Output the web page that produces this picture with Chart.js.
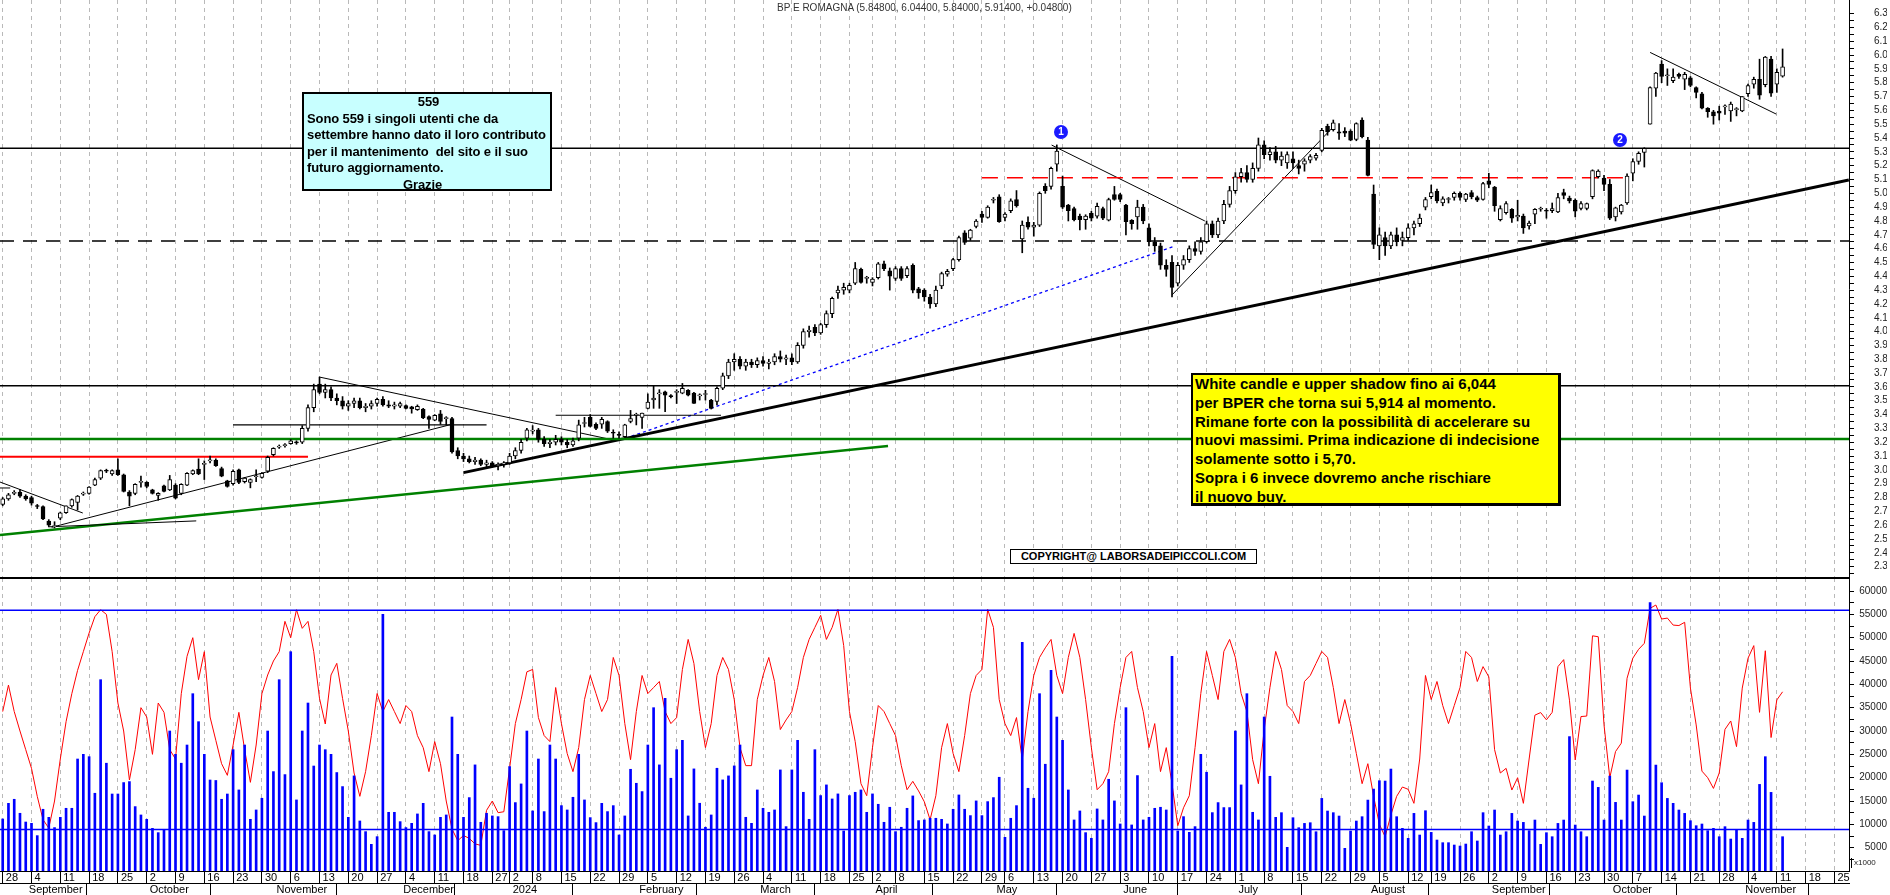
<!DOCTYPE html>
<html><head><meta charset="utf-8">
<script src="https://cdn.jsdelivr.net/npm/chart.js@4.4.1/dist/chart.umd.min.js"></script>
<style>
html,body{margin:0;padding:0;background:#fff;width:1890px;height:895px;overflow:hidden;font-family:"Liberation Sans",Arial,sans-serif}
#wrap{position:relative;width:1890px;height:895px}
canvas{position:absolute;left:0}
#price{top:0}
#vol{top:578px}
.box{position:absolute;box-sizing:border-box;white-space:pre;color:#000}
#title{position:absolute;left:777px;top:2px;font-size:10px;color:#333;white-space:pre}
#cyan{left:302px;top:92px;width:250px;height:99px;border:2px solid #000;background:#c8ffff;font-weight:bold;font-size:13px;line-height:16.5px;padding:0 0 0 3px;letter-spacing:-0.1px}
#yellow{left:1191px;top:373px;width:370px;height:133px;border:2px solid #000;border-right-width:3px;border-bottom-width:3px;background:#ffff00;font-weight:bold;font-size:15px;line-height:18.8px;padding:0 0 0 2px}
#copy{left:1010px;top:549px;width:247px;height:15px;border:1px solid #000;background:#fff;font-weight:bold;font-size:11px;line-height:13px;text-align:center}
.circ{position:absolute;width:14px;height:14px;border-radius:50%;background:#1a1aff;color:#fff;font-weight:bold;font-size:10px;line-height:14px;text-align:center}
#sep{position:absolute;left:0;top:577px;width:1849px;height:2px;background:#000}
#x1000{position:absolute;left:1851px;top:858px;font-size:8px;line-height:10px;border-left:1px solid #000;padding-left:2px;color:#222}
</style></head><body>
<div id="wrap">
<canvas id="price" width="1890" height="578"></canvas>
<canvas id="vol" width="1890" height="317"></canvas>
<div id="sep"></div>
<div id="title">BP E ROMAGNA (5.84800, 6.04400, 5.84000, 5.91400, +0.04800)</div>
<div class="box" id="cyan"><div style="text-align:center">559</div>Sono 559 i singoli utenti che da
settembre hanno dato il loro contributo
per il mantenimento  del sito e il suo
futuro aggiornamento.
<div style="text-align:center;margin-left:-12px">Grazie</div></div>
<div class="box" id="yellow">White candle e upper shadow fino ai 6,044
per BPER che torna sui 5,914 al momento.
Rimane forte con la possibilità di accelerare su
nuovi massimi. Prima indicazione di indecisione
solamente sotto i 5,70.
Sopra i 6 invece dovremo anche rischiare
il nuovo buy.</div>
<div class="box" id="copy">COPYRIGHT@ LABORSADEIPICCOLI.COM</div>
<div class="circ" style="left:1054px;top:125px">1</div>
<div class="circ" style="left:1613px;top:133px">2</div>
<div id="x1000">x1000</div>
</div>
<script>
// ---------- DATA ----------
const open=[2.75,2.79,2.83,2.84,2.81,2.80,2.74,2.735,2.63,2.59,2.65,2.69,2.74,2.765,2.825,2.83,2.89,2.94,2.995,2.97,3.00,2.965,2.84,2.83,2.91,2.91,2.855,2.815,2.885,2.855,2.89,2.83,2.89,2.97,3.005,3.04,3.065,3.07,3.01,2.92,2.90,3.00,2.915,2.91,2.95,2.945,2.99,3.11,3.165,3.175,3.19,3.20,3.20,3.30,3.45,3.62,3.56,3.58,3.52,3.50,3.46,3.48,3.50,3.45,3.46,3.48,3.51,3.47,3.46,3.46,3.465,3.455,3.435,3.44,3.385,3.36,3.405,3.37,3.37,3.14,3.10,3.08,3.06,3.07,3.04,3.05,3.03,3.04,3.05,3.10,3.14,3.23,3.28,3.29,3.22,3.19,3.20,3.22,3.20,3.18,3.23,3.335,3.38,3.33,3.33,3.35,3.27,3.255,3.24,3.35,3.395,3.38,3.445,3.505,3.55,3.565,3.535,3.56,3.555,3.575,3.555,3.535,3.545,3.505,3.495,3.59,3.68,3.78,3.80,3.75,3.78,3.76,3.79,3.77,3.78,3.82,3.80,3.81,3.78,3.90,4.00,4.03,3.99,4.05,4.13,4.28,4.30,4.30,4.35,4.45,4.385,4.355,4.39,4.49,4.44,4.385,4.455,4.405,4.48,4.31,4.30,4.25,4.20,4.33,4.415,4.455,4.52,4.715,4.675,4.76,4.85,4.825,4.95,4.975,4.825,4.875,4.955,4.67,4.79,4.755,4.77,5.05,5.05,5.21,5.05,4.915,4.89,4.835,4.81,4.855,4.835,4.89,4.805,4.99,4.99,4.915,4.805,4.83,4.90,4.75,4.65,4.62,4.48,4.50,4.35,4.48,4.52,4.60,4.58,4.65,4.78,4.70,4.80,4.92,5.02,5.12,5.15,5.10,5.18,5.35,5.28,5.30,5.24,5.22,5.25,5.20,5.21,5.24,5.255,5.31,5.485,5.46,5.445,5.45,5.45,5.39,5.53,5.385,4.995,4.62,4.68,4.62,4.70,4.66,4.68,4.75,4.78,4.90,4.975,5.015,4.93,4.955,4.97,5.00,4.955,5.005,4.97,4.955,5.09,5.045,4.81,4.86,4.885,4.83,4.835,4.765,4.85,4.885,4.875,4.875,4.865,5.005,4.965,4.95,4.89,4.89,4.975,5.12,5.11,5.065,4.83,4.865,4.93,5.145,5.23,5.295,5.50,5.76,5.935,5.85,5.815,5.86,5.825,5.835,5.765,5.72,5.615,5.59,5.595,5.625,5.595,5.605,5.595,5.72,5.79,5.825,5.785,5.97,5.79,5.848];
const high=[2.80,2.83,2.85,2.86,2.82,2.81,2.75,2.74,2.64,2.625,2.695,2.74,2.79,2.815,2.84,2.88,2.94,3.00,3.005,3.00,3.08,2.97,2.85,2.90,2.955,2.915,2.86,2.835,2.89,2.96,2.90,2.90,2.98,3.00,3.08,3.065,3.10,3.08,3.02,2.925,3.00,3.005,2.945,2.935,3.00,2.98,3.10,3.16,3.18,3.19,3.22,3.21,3.32,3.47,3.62,3.67,3.62,3.60,3.55,3.53,3.50,3.52,3.52,3.48,3.50,3.52,3.53,3.50,3.49,3.49,3.47,3.46,3.47,3.445,3.39,3.40,3.43,3.385,3.38,3.16,3.12,3.10,3.09,3.08,3.07,3.06,3.05,3.06,3.12,3.16,3.22,3.30,3.32,3.30,3.24,3.22,3.25,3.24,3.22,3.23,3.36,3.38,3.40,3.34,3.38,3.355,3.29,3.275,3.33,3.43,3.41,3.41,3.55,3.605,3.58,3.57,3.545,3.58,3.625,3.58,3.56,3.55,3.575,3.51,3.60,3.70,3.80,3.84,3.82,3.80,3.80,3.81,3.82,3.80,3.84,3.86,3.83,3.84,3.92,4.02,4.04,4.05,4.06,4.15,4.25,4.33,4.35,4.35,4.50,4.46,4.40,4.39,4.50,4.51,4.46,4.47,4.47,4.47,4.49,4.32,4.31,4.27,4.33,4.43,4.45,4.53,4.69,4.73,4.74,4.81,4.87,4.91,4.97,4.99,4.86,4.96,5.02,4.80,4.83,4.79,5.01,5.07,5.19,5.35,5.125,4.92,4.90,4.85,4.845,4.87,4.93,4.90,4.965,5.05,5.00,4.92,4.81,4.95,4.92,4.78,4.68,4.64,4.52,4.55,4.50,4.55,4.62,4.65,4.68,4.80,4.80,4.82,4.95,5.05,5.15,5.18,5.20,5.22,5.40,5.38,5.33,5.34,5.30,5.30,5.30,5.24,5.25,5.28,5.29,5.47,5.50,5.53,5.505,5.475,5.46,5.51,5.545,5.405,5.06,4.75,4.72,4.72,4.75,4.72,4.78,4.80,4.85,4.97,5.06,5.03,4.975,4.97,5.01,5.01,5.00,5.02,4.98,5.08,5.145,5.05,4.91,4.94,4.89,4.95,4.85,4.80,4.89,4.90,4.89,4.93,5.00,5.03,4.98,4.96,4.94,4.93,5.17,5.17,5.13,5.10,4.90,4.92,5.14,5.25,5.30,5.33,5.77,5.875,5.96,5.90,5.90,5.87,5.875,5.845,5.77,5.73,5.62,5.60,5.63,5.64,5.66,5.62,5.70,5.79,5.84,5.97,5.99,5.99,5.90,6.044];
const low=[2.74,2.78,2.82,2.80,2.78,2.745,2.72,2.64,2.59,2.58,2.64,2.685,2.73,2.71,2.815,2.825,2.885,2.93,2.98,2.96,2.96,2.84,2.74,2.82,2.875,2.87,2.825,2.78,2.84,2.85,2.79,2.82,2.885,2.965,2.965,2.93,3.05,3.025,2.95,2.875,2.89,2.90,2.905,2.87,2.915,2.94,2.98,3.10,3.155,3.165,3.185,3.185,3.19,3.28,3.42,3.55,3.52,3.50,3.47,3.44,3.43,3.45,3.44,3.42,3.44,3.46,3.46,3.45,3.44,3.45,3.44,3.41,3.43,3.37,3.30,3.355,3.33,3.325,3.12,3.08,3.06,3.05,3.04,3.03,3.02,3.02,3.00,3.02,3.04,3.08,3.12,3.21,3.26,3.20,3.17,3.16,3.18,3.18,3.16,3.17,3.21,3.31,3.31,3.29,3.30,3.27,3.23,3.23,3.235,3.34,3.325,3.30,3.44,3.445,3.445,3.42,3.52,3.48,3.55,3.535,3.48,3.505,3.505,3.44,3.47,3.58,3.66,3.72,3.73,3.72,3.74,3.74,3.75,3.73,3.76,3.78,3.76,3.76,3.77,3.88,3.96,3.97,3.98,4.03,4.10,4.24,4.27,4.28,4.34,4.35,4.35,4.33,4.38,4.44,4.30,4.37,4.37,4.39,4.28,4.24,4.22,4.17,4.18,4.31,4.40,4.44,4.51,4.63,4.66,4.75,4.79,4.82,4.93,4.79,4.80,4.86,4.90,4.57,4.74,4.69,4.76,5.00,5.03,5.16,4.89,4.80,4.80,4.735,4.74,4.80,4.82,4.81,4.80,4.95,4.94,4.70,4.74,4.74,4.78,4.62,4.58,4.45,4.40,4.25,4.33,4.45,4.50,4.55,4.56,4.64,4.68,4.68,4.78,4.90,5.00,5.08,5.08,5.08,5.16,5.25,5.24,5.22,5.20,5.18,5.18,5.14,5.16,5.22,5.24,5.30,5.42,5.45,5.39,5.41,5.38,5.38,5.40,5.125,4.60,4.52,4.55,4.60,4.62,4.62,4.66,4.70,4.76,4.88,4.96,4.93,4.91,4.93,4.95,4.95,4.94,4.96,4.94,4.95,5.04,4.87,4.80,4.85,4.79,4.80,4.71,4.74,4.78,4.87,4.82,4.86,4.86,4.96,4.93,4.83,4.88,4.88,4.96,5.11,5.02,4.81,4.80,4.85,4.92,5.09,5.21,5.19,5.50,5.70,5.80,5.78,5.80,5.83,5.75,5.77,5.69,5.61,5.55,5.50,5.53,5.57,5.52,5.56,5.59,5.70,5.76,5.68,5.77,5.70,5.73,5.84];
const close=[2.79,2.82,2.835,2.81,2.79,2.76,2.735,2.645,2.60,2.595,2.69,2.74,2.785,2.81,2.83,2.875,2.93,2.995,2.99,2.995,2.965,2.845,2.81,2.895,2.915,2.88,2.83,2.83,2.845,2.93,2.795,2.895,2.975,2.995,2.97,3.045,3.07,3.03,2.955,2.88,2.99,2.91,2.94,2.93,2.955,2.975,3.09,3.155,3.17,3.18,3.21,3.195,3.30,3.45,3.58,3.56,3.58,3.52,3.50,3.46,3.48,3.50,3.45,3.46,3.48,3.51,3.47,3.46,3.47,3.48,3.445,3.44,3.46,3.375,3.365,3.395,3.35,3.375,3.13,3.10,3.08,3.06,3.07,3.04,3.05,3.03,3.04,3.05,3.10,3.14,3.20,3.29,3.285,3.22,3.19,3.20,3.22,3.20,3.18,3.21,3.325,3.34,3.315,3.30,3.365,3.28,3.265,3.25,3.325,3.37,3.40,3.41,3.49,3.52,3.555,3.54,3.53,3.565,3.59,3.54,3.48,3.54,3.55,3.445,3.59,3.68,3.78,3.80,3.75,3.78,3.76,3.79,3.77,3.78,3.82,3.80,3.81,3.78,3.90,4.00,4.01,3.99,4.05,4.13,4.24,4.30,4.32,4.335,4.455,4.355,4.385,4.38,4.49,4.455,4.40,4.455,4.385,4.455,4.30,4.28,4.25,4.20,4.30,4.42,4.435,4.52,4.68,4.645,4.735,4.80,4.825,4.90,4.955,4.795,4.85,4.945,4.91,4.77,4.755,4.77,5.00,5.02,5.18,5.305,4.90,4.875,4.81,4.81,4.835,4.82,4.905,4.82,4.955,4.955,4.955,4.795,4.78,4.90,4.80,4.65,4.62,4.48,4.45,4.32,4.48,4.52,4.60,4.58,4.65,4.78,4.70,4.80,4.92,5.02,5.12,5.15,5.10,5.18,5.35,5.28,5.30,5.24,5.27,5.28,5.22,5.18,5.235,5.265,5.275,5.455,5.445,5.51,5.435,5.435,5.385,5.505,5.41,5.13,4.63,4.70,4.62,4.70,4.65,4.68,4.75,4.78,4.82,4.955,5.005,4.945,4.96,4.96,5.00,4.97,4.995,4.975,4.95,5.07,5.065,4.91,4.89,4.925,4.82,4.84,4.75,4.785,4.885,4.89,4.87,4.89,4.97,4.985,4.945,4.87,4.925,4.925,5.165,5.16,5.065,4.82,4.895,4.915,5.125,5.23,5.29,5.325,5.765,5.87,5.845,5.85,5.84,5.845,5.86,5.78,5.73,5.615,5.59,5.56,5.58,5.63,5.645,5.61,5.70,5.78,5.825,5.71,5.985,5.725,5.875,5.914];
const volume=[11150,14500,15370,12370,10500,10220,7580,13230,11500,9300,11500,13440,13440,24000,25000,24500,16660,41000,23100,16500,16500,18950,19160,13800,12010,11080,9150,8220,8800,30000,25000,23100,27000,38000,32000,25000,19500,19400,15370,16500,26000,17370,27000,11080,13080,15590,30000,21300,41000,20660,47000,15230,30000,36000,22500,27000,26000,25000,21100,18090,11500,20380,10720,8440,5720,7360,55000,12580,12580,10580,9300,10220,12230,14500,8440,7720,11500,12010,33000,25000,11500,15730,22740,10440,12370,11800,11650,8650,22380,14660,18660,30000,12870,24000,12730,27000,24000,14010,13080,15800,25000,15230,11440,10370,14500,12730,14010,7720,11800,21800,18800,17020,27000,35000,22740,37000,19880,26000,28000,11800,21880,14520,9370,12010,22020,19520,20380,22520,27000,11510,10220,17370,13440,12580,13080,21660,9510,21660,28000,16870,11080,26000,16160,18450,15440,16520,8580,16160,16870,17370,12580,16520,14300,10440,13660,8440,9370,13440,16090,10800,10940,11300,11300,11080,10080,13230,16300,13230,11870,15020,11870,14870,15730,20090,7220,11300,14010,49000,17730,15590,38000,22880,43000,33000,28000,17370,10940,12870,8220,7010,13300,10940,19660,15020,10080,35000,9870,20450,10940,11510,13440,13660,13080,46000,8580,11650,8290,9510,25000,21160,12510,14660,13590,13590,30000,18450,38000,12580,10940,33000,20300,11500,12500,5070,11420,9280,10200,10350,8420,15560,12850,12500,11780,4860,8570,10710,11640,15200,17560,19350,19280,21850,11640,9140,7000,12350,7710,12920,8280,6640,6070,6070,5570,5350,5780,8420,6430,12500,9640,13070,7710,8420,12350,10710,10420,8640,10920,5710,8210,7350,10200,10920,28800,9850,8420,7350,19280,17920,10920,20350,14710,10920,21630,14850,16280,11780,57500,22700,18920,15560,14500,13070,12350,10780,9710,10070,8640,9140,7350,9500,6850,8920,7000,10920,10420,18560,24500,16850,null,7350];
const oscillator=[34170,39840,34170,30000,26000,22000,16000,11000,9200,15000,24000,32000,38000,43000,47000,51000,54500,56000,55000,47000,36000,30000,19500,26000,35000,33000,25000,36000,34000,26000,24000,38000,46000,50000,41000,47000,33000,28000,23000,20500,27000,34000,26000,19000,27000,38000,42000,45000,47000,53500,50000,56000,52000,53500,47000,37000,31500,42000,44500,37000,30000,21000,16000,21290,29020,38030,34170,36740,34170,31590,35460,34170,29020,26440,21290,27730,23000,15000,9000,6500,7600,7000,5800,5500,13000,15000,12500,12700,22000,31590,36740,42680,43190,32880,29020,27730,39320,31590,25170,21290,26440,36740,41900,38030,34170,36740,45760,41900,31590,23860,34170,41900,38030,39320,40610,34170,31590,32880,43190,49630,44480,34170,26440,31590,41900,45760,43190,36740,26440,22580,22580,36740,41900,45760,40610,30310,32370,34170,39320,45760,49630,52210,54790,49630,52210,56070,48340,34170,27730,18710,16130,26440,35460,34170,31590,29020,22580,17420,19220,17160,14840,10980,16130,26440,31590,25170,21290,29020,38030,41900,43190,56070,52210,36740,31590,29020,32880,23860,34170,41900,45760,47820,49630,41900,38030,45760,50920,45760,36740,26440,17420,18710,21290,31590,39320,45760,47050,39320,34170,26440,31590,21290,26440,18710,9690,13550,16130,26440,38030,47050,41900,36740,47050,49630,45760,38030,34170,23860,18710,30310,39320,47050,43190,35460,34170,31590,40610,41900,44480,47050,45760,39320,31590,36740,31590,25170,18710,23000,16000,10000,7350,12000,16000,18000,17500,14500,24000,41900,36740,40610,35460,31590,35460,39320,47050,45760,40610,43800,41600,26000,21000,22000,17350,20000,14500,24000,33400,33950,32400,34000,43800,45300,36600,23800,33100,33200,50400,50200,31300,20000,25600,27400,41300,45600,47500,48800,56300,57000,54000,54200,52700,52600,53300,39200,31300,21400,20000,17700,21000,30350,32150,26650,39200,45600,48300,34000,47200,28600,36650,38400];
const weekIdx=[0,5,10,15,20,25,30,35,40,45,50,55,60,65,70,75,80,85,88,92,97,102,107,112,117,122,127,132,137,142,147,151,155,160,165,170,174,179,184,189,194,199,204,209,214,219,224,229,234,239,244,248,253,258,263,268,273,278,283,288,293,298,303,308,313,318];
const weekLbl=['28','4','11','18','25','2','9','16','23','30','6','13','20','27','4','11','18','27','2','8','15','22','29','5','12','19','26','4','11','18','25','2','8','15','22','29','6','13','20','27','3','10','17','24','1','8','15','22','29','5','12','19','26','2','9','16','23','30','7','14','21','28','4','11','18','25'];
const monthIdx=[4,25,47,69,88,110,131,151,172,194,214,237,258,279,302];
const monthLbl=['September','October','November','December','2024','February','March','April','May','June','July','August','September','October','November'];
// drawn levels and trend lines (index, price)
const levelBlack=[5.325,3.609];
const levelGreen=[3.223];
const levelDashed=[4.655];
const redDashed=[[170,5.113],[281.5,5.113]];
const redSolid=[[-0.47,3.095],[53,3.095]];
const shortLines=[[[40,3.325],[84,3.325]],[[96,3.395],[124.7,3.395]]];
const thinTrends=[[[54.9,3.672],[106,3.216]],[[182.1,5.349],[208.7,4.80]],[[203,4.265],[230.8,5.472]],[[286,6.019],[307.9,5.573]],[[8.5,2.585],[78,3.33]],[[7.9,2.588],[33.6,2.631]],[[-0.47,2.912],[13.9,2.688]],[[-0.47,2.869],[1.3,2.869]]];
const thickTrend=[[80,2.98],[320.5,5.096]];
const greenTrend=[[-0.47,2.529],[153.7,3.173]];
const blueDotted=[[108.2,3.229],[203.5,4.619]];
const volLevels=[55900,8900];
// ---------- CHART ----------
const X_MIN=-0.469, X_MAX=320.53;
Chart.defaults.font.family='"Liberation Sans", Arial, sans-serif';
Chart.defaults.font.size=11;
Chart.defaults.color='#000';
const idx=open.map((_,i)=>i);
const pts=a=>a.map(p=>({x:p[0],y:p[1]}));
const lineDs=(data,color,width,dash,order)=>({type:'line',data,borderColor:color,borderWidth:width,borderDash:dash||[],pointRadius:0,fill:false,tension:0,order:order||5});
const priceDs=[
  {type:'bar',data:idx.map(i=>({x:i,y:[low[i],high[i]]})),backgroundColor:'#000',barThickness:1,grouped:false,order:1},
  {type:'bar',data:idx.map(i=>({x:i,y:[open[i],close[i]]})),backgroundColor:idx.map(i=>close[i]>=open[i]?'#fff':'#000'),borderColor:'#000',borderWidth:1,borderSkipped:false,barThickness:4,minBarLength:1,grouped:false,order:0}
];
levelBlack.forEach(v=>priceDs.push(lineDs([{x:X_MIN,y:v},{x:X_MAX,y:v}],'#000',1.5)));
levelGreen.forEach(v=>priceDs.push(lineDs([{x:X_MIN,y:v},{x:X_MAX,y:v}],'#008000',2.5)));
levelDashed.forEach(v=>priceDs.push(lineDs([{x:X_MIN,y:v},{x:X_MAX,y:v}],'#000',1.5,[14,9])));
priceDs.push(lineDs(pts(redDashed),'#ff0000',1.5,[16,9]));
priceDs.push(lineDs(pts(redSolid),'#ff0000',2));
shortLines.forEach(s=>priceDs.push(lineDs(pts(s),'#000',1.2)));
thinTrends.forEach(s=>priceDs.push(lineDs(pts(s),'#000',1)));
priceDs.push(lineDs(pts(thickTrend),'#000',3));
priceDs.push(lineDs(pts(greenTrend),'#008000',2.5));
priceDs.push(lineDs(pts(blueDotted),'#0000ff',1.3,[3,3]));

const weekTicks=s=>{s.ticks=weekIdx.map(v=>({value:v}));};
const gridX={color:'#b9b9b9',lineWidth:1,offset:false};
const fitX=h=>s=>{s.height=h;s.paddingLeft=0;s.paddingRight=0;s.paddingTop=0;s.paddingBottom=0;};
const fitY=s=>{s.width=38;s.paddingTop=0;s.paddingBottom=0;s.paddingLeft=0;s.paddingRight=0;};

new Chart(document.getElementById('price'),{
  type:'bar',
  data:{datasets:priceDs},
  options:{responsive:false,animation:false,devicePixelRatio:1,events:[],
    layout:{padding:{right:3,left:0,top:0,bottom:0}},
    plugins:{legend:{display:false},tooltip:{enabled:false}},
    scales:{
      x:{type:'linear',min:X_MIN,max:X_MAX,offset:false,afterBuildTicks:weekTicks,
         ticks:{display:false},grid:Object.assign({drawTicks:false},gridX),border:{display:false,dash:[4,4]},
         afterFit:fitX(0)},
      y:{type:'linear',position:'right',min:2.218,max:6.398,beginAtZero:false,
         afterBuildTicks:s=>{const t=[];for(let k=45;k<=126;k++)t.push({value:k*0.05});s.ticks=t;},
         ticks:{autoSkip:false,crossAlign:'near',padding:20,color:'#222',font:{size:10},
           callback:(v)=>{const k=Math.round(v/0.05);return k%2===0?(k*0.05).toFixed(1):'';}},
         grid:{drawOnChartArea:false,tickLength:5,tickColor:'#000'},
         border:{display:true,color:'#000',width:1},
         afterFit:fitY}
    }}
});

const volDs=[
  lineDs(oscillator.map((v,i)=>({x:i,y:v})),'#ff0000',1,[],0),
  {type:'bar',data:volume.map((v,i)=>({x:i,y:v})),backgroundColor:'#0000ff',barThickness:2,grouped:false,order:3}
];
volLevels.forEach(v=>volDs.push(lineDs([{x:X_MIN,y:v},{x:X_MAX,y:v}],'#0000ff',1.5,[],1)));

new Chart(document.getElementById('vol'),{
  type:'bar',
  data:{datasets:volDs},
  options:{responsive:false,animation:false,devicePixelRatio:1,events:[],
    layout:{padding:{right:3,left:0,top:0,bottom:0}},
    plugins:{legend:{display:false},tooltip:{enabled:false}},
    scales:{
      x:{type:'linear',position:'bottom',weight:0,min:X_MIN,max:X_MAX,offset:false,afterBuildTicks:weekTicks,
         ticks:{autoSkip:false,maxRotation:0,minRotation:0,align:'start',padding:-12,color:'#000',
           callback:(v,i)=>' '+weekLbl[i]},
         grid:Object.assign({drawTicks:true,tickLength:12,tickColor:'#000',tickBorderDash:[],tickWidth:1},gridX),
         border:{display:true,color:'#000',dash:[4,4]},
         afterFit:fitX(12)},
      xm:{type:'linear',position:'bottom',weight:1,min:X_MIN,max:X_MAX,offset:false,
         afterBuildTicks:s=>{s.ticks=monthIdx.map(v=>({value:v}));},
         ticks:{autoSkip:false,maxRotation:0,minRotation:0,align:'start',padding:-12,color:'#000',
           callback:(v,i)=>' '+monthLbl[i]},
         grid:{drawOnChartArea:false,drawTicks:true,tickLength:12,tickColor:'#000',tickBorderDash:[]},
         border:{display:true,color:'#000'},
         afterFit:fitX(12)},
      y:{type:'linear',position:'right',min:0,max:62790,beginAtZero:true,
         afterBuildTicks:s=>{const t=[];for(let k=1;k<=24;k++)t.push({value:k*2500});s.ticks=t;},
         ticks:{autoSkip:false,crossAlign:'far',padding:2,color:'#222',font:{size:10},
           callback:(v)=>{const k=Math.round(v/2500);return k%2===0?String(k*2500):'';}},
         grid:{drawOnChartArea:false,tickLength:5,tickColor:'#000'},
         border:{display:true,color:'#000',width:1},
         afterFit:fitY}
    }}
});
</script>
</body></html>
